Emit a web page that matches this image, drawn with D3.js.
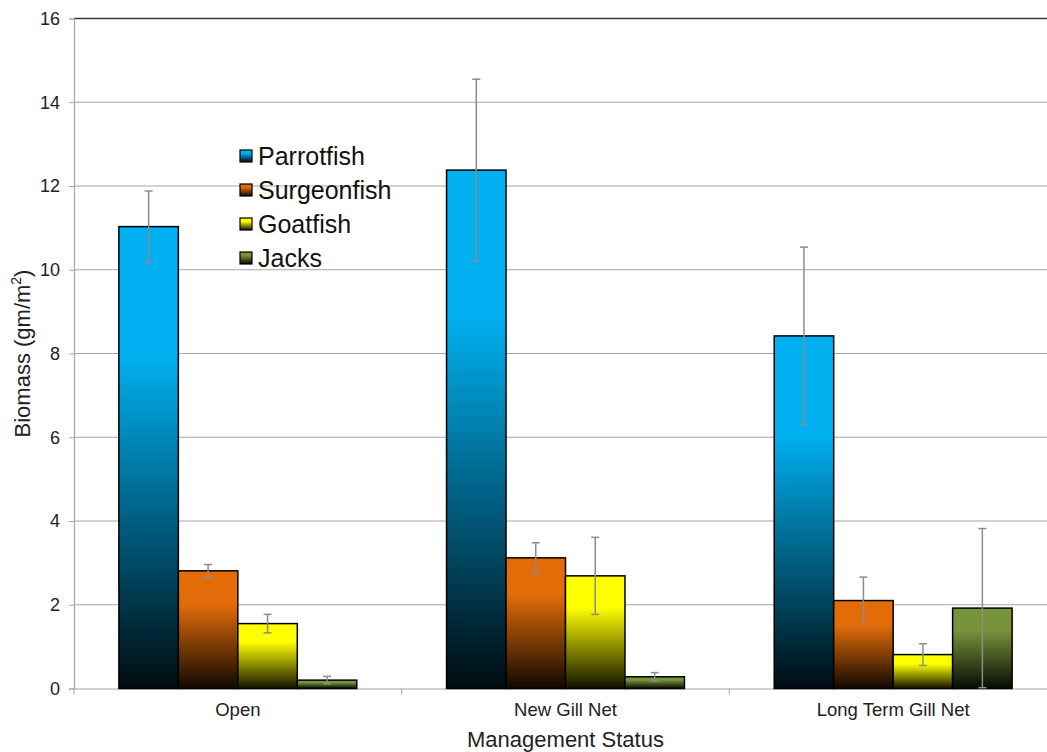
<!DOCTYPE html>
<html>
<head>
<meta charset="utf-8">
<script src="https://cdn.jsdelivr.net/npm/d3@7"></script>
<style>
  body { margin: 0; background: #fff; }
  svg { display: block; font-family: "Liberation Sans", Arial, sans-serif; }
</style>
</head>
<body>
<svg width="1047" height="752"></svg>
<script>
// data
var categories = ["Open", "New Gill Net", "Long Term Gill Net"];
var species = ["Parrotfish", "Surgeonfish", "Goatfish", "Jacks"];
var parrotfish = [11.03, 12.38, 8.42];
var surgeonfish = [2.81, 3.12, 2.10];
var goatfish = [1.55, 2.69, 0.81];
var jacks = [0.20, 0.28, 1.92];
var parrotErr = [0.85, 2.17, 2.12];
var surgeonErr = [0.15, 0.36, 0.56];
var goatErr = [0.22, 0.92, 0.26];
var jacksErr = [0.09, 0.10, 1.90];
var yTicks = [0, 2, 4, 6, 8, 10, 12, 14, 16];
var colors = ["#00b0f0", "#e36c09", "#ffff00", "#77933c"];

var values = [parrotfish, surgeonfish, goatfish, jacks];
var errors = [parrotErr, surgeonErr, goatErr, jacksErr];

var svg = d3.select("svg");
var plotLeft = 74, plotRight = 1057, plotTop = 18.5, plotBottom = 688.5;

var x0 = d3.scaleBand().domain(categories).range([plotLeft, plotRight]);
var bw = x0.bandwidth();
var x1 = d3.scaleBand().domain(species).range([bw * 0.137, bw * 0.863]);
var y = d3.scaleLinear().domain([0, 16]).range([plotBottom, plotTop]);

// gradients, colour on top fading to near black at the base
var defs = svg.append("defs");
species.forEach(function(s, i) {
  var g = defs.append("linearGradient")
      .attr("id", "grad" + i)
      .attr("x1", 0).attr("y1", 0).attr("x2", 0).attr("y2", 1);
  g.append("stop").attr("offset", 0).attr("stop-color", colors[i]);
  g.append("stop").attr("offset", 0.28).attr("stop-color", colors[i]);
  g.append("stop").attr("offset", 1).attr("stop-color", d3.interpolateRgb(colors[i], "#000")(0.93));
});

// grid lines
svg.append("g")
  .selectAll("line")
  .data(yTicks.filter(function(d) { return d > 0; }))
  .enter().append("line")
    .attr("x1", plotLeft).attr("x2", plotRight)
    .attr("y1", function(d) { return y(d); })
    .attr("y2", function(d) { return y(d); })
    .attr("stroke", function(d) { return d == 16 ? "#3a3a3a" : "#a6a6a6"; })
    .attr("stroke-width", function(d) { return d == 16 ? 1.3 : 1; });

// y axis
var yAxis = svg.append("g")
    .attr("transform", "translate(" + plotLeft + ",0)")
    .call(d3.axisLeft(y).tickValues(yTicks).tickSize(5).tickPadding(9));
yAxis.select(".domain").attr("stroke", "#a6a6a6").attr("stroke-width", 1.2);
yAxis.selectAll(".tick line").attr("stroke", "#a6a6a6");
yAxis.selectAll("text").attr("font-size", 18).attr("fill", "#222")
    .attr("font-family", "Liberation Sans, Arial, sans-serif");

// x axis
var xAxis = svg.append("g")
    .attr("transform", "translate(0," + plotBottom + ")")
    .call(d3.axisBottom(x0).tickSize(0).tickPadding(14));
xAxis.select(".domain").attr("stroke", "#a6a6a6").attr("stroke-width", 1.2);
xAxis.selectAll("text").attr("font-size", 18.5).attr("fill", "#222")
    .attr("font-family", "Liberation Sans, Arial, sans-serif");
xAxis.selectAll(".sep")
  .data(categories)
  .enter().append("line")
    .attr("x1", function(d) { return x0(d); })
    .attr("x2", function(d) { return x0(d); })
    .attr("y1", 0).attr("y2", 6)
    .attr("stroke", "#a6a6a6");

// bars
var groups = svg.append("g")
  .selectAll("g")
  .data(categories)
  .enter().append("g")
    .attr("transform", function(d) { return "translate(" + x0(d) + ",0)"; });

groups.selectAll("rect")
  .data(function(c, ci) {
    return species.map(function(s, si) {
      return { s: s, i: si, v: values[si][ci], e: errors[si][ci] };
    });
  })
  .enter().append("rect")
    .attr("x", function(d) { return x1(d.s); })
    .attr("width", x1.bandwidth())
    .attr("y", function(d) { return y(d.v); })
    .attr("height", function(d) { return plotBottom - y(d.v); })
    .attr("fill", function(d) { return "url(#grad" + d.i + ")"; })
    .attr("stroke", "#000")
    .attr("stroke-width", 1.5);

// error bars
var err = groups.selectAll(".err")
  .data(function(c, ci) {
    return species.map(function(s, si) {
      return { s: s, v: values[si][ci], e: errors[si][ci] };
    });
  })
  .enter().append("g")
    .attr("class", "err")
    .attr("stroke", "#8c8c8c")
    .attr("stroke-width", 1.5);

err.append("line")
    .attr("x1", function(d) { return x1(d.s) + x1.bandwidth() / 2; })
    .attr("x2", function(d) { return x1(d.s) + x1.bandwidth() / 2; })
    .attr("y1", function(d) { return y(d.v + d.e); })
    .attr("y2", function(d) { return y(d.v - d.e); });
[1, -1].forEach(function(sign) {
  err.append("line")
      .attr("x1", function(d) { return x1(d.s) + x1.bandwidth() / 2 - 4; })
      .attr("x2", function(d) { return x1(d.s) + x1.bandwidth() / 2 + 4; })
      .attr("y1", function(d) { return y(d.v + sign * d.e); })
      .attr("y2", function(d) { return y(d.v + sign * d.e); });
});

// axis titles
svg.append("text")
    .attr("x", (plotLeft + plotRight) / 2)
    .attr("y", 747)
    .attr("text-anchor", "middle")
    .attr("font-size", 22)
    .attr("fill", "#222")
    .text("Management Status");

var yt = svg.append("text")
    .attr("transform", "translate(30," + (plotTop + plotBottom) / 2 + ") rotate(-90)")
    .attr("text-anchor", "middle")
    .attr("font-size", 22)
    .attr("fill", "#222");
yt.append("tspan").text("Biomass (gm/m");
yt.append("tspan").attr("font-size", 14).attr("dy", -9).text("2");
yt.append("tspan").attr("dy", 9).text(")");

// legend
var legend = svg.append("g")
  .selectAll("g")
  .data(species)
  .enter().append("g")
    .attr("transform", function(d, i) { return "translate(240," + (156 + i * 34) + ")"; });
legend.append("rect")
    .attr("x", 0).attr("y", -6)
    .attr("width", 12).attr("height", 12)
    .attr("fill", function(d, i) { return "url(#grad" + i + ")"; })
    .attr("stroke", "#000")
    .attr("stroke-width", 1.2);
legend.append("text")
    .attr("x", 18)
    .attr("y", 8.5)
    .attr("font-size", 25)
    .attr("fill", "#111")
    .text(function(d) { return d; });
</script>
</body>
</html>
